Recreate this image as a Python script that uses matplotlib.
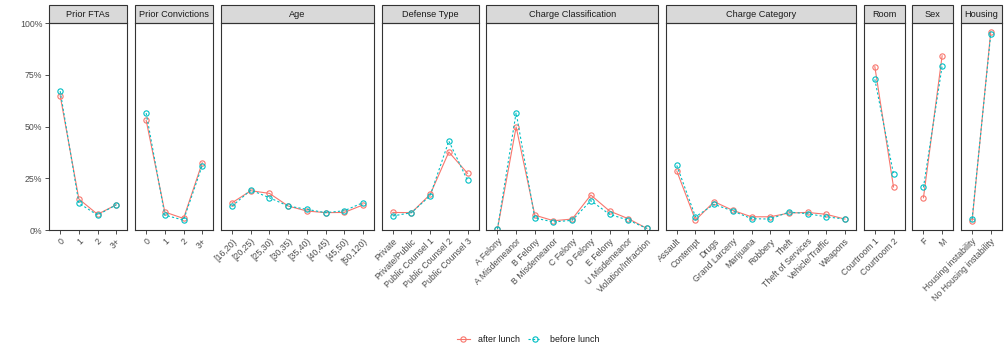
import numpy as np
import matplotlib.pyplot as plt
from matplotlib.patches import Rectangle
from matplotlib.ticker import PercentFormatter

plt.rcParams['font.family'] = ['Liberation Sans', 'DejaVu Sans']

# facet titles and categories
panels = ['Prior FTAs', 'Prior Convictions', 'Age', 'Defense Type',
          'Charge Classification', 'Charge Category', 'Room', 'Sex', 'Housing']

cats_fta = ['0', '1', '2', '3+']
cats_conv = ['0', '1', '2', '3+']
cats_age = ['[16,20)', '[20,25)', '[25,30)', '[30,35)', '[35,40)', '[40,45)', '[45,50)', '[50,120)']
cats_def = ['Private', 'Private/Public', 'Public Counsel 1', 'Public Counsel 2', 'Public Counsel 3']
cats_class = ['A Felony', 'A Misdemeanor', 'B Felony', 'B Misdemeanor', 'C Felony',
              'D Felony', 'E Felony', 'U Misdemeanor', 'Violation/Infraction']
cats_cat = ['Assault', 'Contempt', 'Drugs', 'Grand Larceny', 'Marijuana', 'Robbery',
            'Theft', 'Theft of Services', 'Vehicle/Traffic', 'Weapons']
cats_room = ['Courtroom 1', 'Courtroom 2']
cats_sex = ['F', 'M']
cats_house = ['Housing instability', 'No Housing instability']

# share of cases, after lunch
after_fta = [0.649, 0.150, 0.076, 0.122]
after_conv = [0.530, 0.087, 0.056, 0.325]
after_age = [0.132, 0.190, 0.177, 0.116, 0.092, 0.084, 0.085, 0.121]
after_def = [0.085, 0.084, 0.172, 0.377, 0.274]
after_class = [0.005, 0.498, 0.072, 0.045, 0.053, 0.169, 0.092, 0.055, 0.008]
after_cat = [0.285, 0.048, 0.137, 0.095, 0.064, 0.064, 0.082, 0.085, 0.076, 0.053]
after_room = [0.789, 0.208]
after_sex = [0.156, 0.842]
after_house = [0.042, 0.958]

# share of cases, before lunch
before_fta = [0.671, 0.130, 0.072, 0.122]
before_conv = [0.565, 0.072, 0.048, 0.311]
before_age = [0.116, 0.193, 0.156, 0.116, 0.100, 0.084, 0.093, 0.132]
before_def = [0.068, 0.084, 0.166, 0.430, 0.240]
before_class = [0.005, 0.567, 0.058, 0.039, 0.047, 0.142, 0.076, 0.048, 0.008]
before_cat = [0.312, 0.064, 0.124, 0.092, 0.055, 0.053, 0.087, 0.079, 0.064, 0.053]
before_room = [0.728, 0.271]
before_sex = [0.206, 0.792]
before_house = [0.053, 0.947]

cats = [cats_fta, cats_conv, cats_age, cats_def, cats_class, cats_cat, cats_room, cats_sex, cats_house]
after = [after_fta, after_conv, after_age, after_def, after_class, after_cat, after_room, after_sex, after_house]
before = [before_fta, before_conv, before_age, before_def, before_class, before_cat, before_room, before_sex, before_house]

red = '#F8766D'
teal = '#00BFC4'
dark = '#333333'
txt = '#4D4D4D'

fig = plt.figure(figsize=(10.08, 3.6), dpi=100)
gs = fig.add_gridspec(1, len(panels), width_ratios=[len(c) + 0.2 for c in cats],
                      left=0.0486, right=0.994, top=0.936, bottom=0.361, wspace=0.076)

for i, (title, c, a, b) in enumerate(zip(panels, cats, after, before)):
    ax = fig.add_subplot(gs[0, i])
    x = np.arange(len(c))
    ax.plot(x, a, color=red, linestyle='-', marker='o', markersize=3.8,
            markerfacecolor='none', markeredgewidth=0.8, linewidth=0.8, label='after lunch')
    ax.plot(x, b, color=teal, linestyle=(0, (2, 2)), marker='o', markersize=3.8,
            markerfacecolor='none', markeredgewidth=0.8, linewidth=0.8, label='before lunch')
    ax.set_xlim(-0.6, len(c) - 0.4)
    ax.set_ylim(0, 1)
    ax.set_xticks(x)
    ax.set_xticklabels(c, rotation=45, ha='right', rotation_mode='anchor')
    ax.set_yticks([0, 0.25, 0.5, 0.75, 1.0])
    ax.yaxis.set_major_formatter(PercentFormatter(1.0, decimals=0))
    ax.tick_params(axis='both', labelsize=6.3, colors=dark, labelcolor=txt,
                   length=2.8, width=0.6, pad=2)
    if i > 0:
        ax.tick_params(axis='y', left=False, labelleft=False)
    for s in ax.spines.values():
        s.set_color(dark)
        s.set_linewidth(0.8)
    # strip header
    h = 18 / 207
    ax.add_patch(Rectangle((0, 1), 1, h, transform=ax.transAxes, clip_on=False,
                           facecolor='#D9D9D9', edgecolor=dark, linewidth=0.8))
    ax.text(0.5, 1 + h / 2, title, transform=ax.transAxes, ha='center', va='center',
            fontsize=6.6, color='#1A1A1A')

handles, labels = ax.get_legend_handles_labels()
fig.legend(handles, labels, loc='center', bbox_to_anchor=(0.524, 0.056), ncol=2,
           frameon=False, fontsize=6.4, handlelength=1.4, columnspacing=0.9,
           handletextpad=1.0, labelcolor='#1A1A1A')

fig.savefig('out.png', dpi=100)
